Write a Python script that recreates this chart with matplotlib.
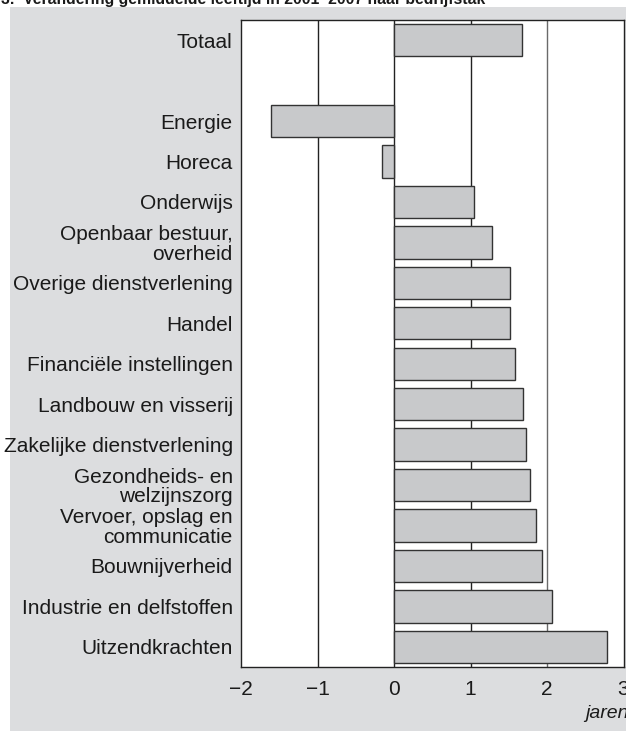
import matplotlib.pyplot as plt
from matplotlib.patches import Rectangle

plt.rcParams['font.family'] = ['Liberation Sans', 'DejaVu Sans']

categories = ['Totaal', '', 'Energie', 'Horeca', 'Onderwijs',
              'Openbaar bestuur,\noverheid', 'Overige dienstverlening', 'Handel',
              'Financiële instellingen', 'Landbouw en visserij',
              'Zakelijke dienstverlening', 'Gezondheids- en\nwelzijnszorg',
              'Vervoer, opslag en\ncommunicatie', 'Bouwnijverheid',
              'Industrie en delfstoffen', 'Uitzendkrachten']
values = [1.67, None, -1.61, -0.16, 1.04, 1.28, 1.515, 1.52, 1.58, 1.68,
          1.73, 1.78, 1.85, 1.93, 2.06, 2.78]
xticks = [-2, -1, 0, 1, 2, 3]
xticklabels = ['\u22122', '\u22121', '0', '1', '2', '3']

W, H = 626, 731
fig = plt.figure(figsize=(W / 100, H / 100), dpi=100)
fig.patch.set_facecolor('white')

# grey panel behind the chart
fig.patches.append(Rectangle((10 / W, 0), 1, 1 - 7 / H, transform=fig.transFigure,
                             facecolor='#dcdddf', edgecolor='none', zorder=-10))

fig.text(1 / W, 1 - 4 / H, '3.  Verandering gemiddelde leeftijd in 2001\u20132007 naar bedrijfstak',
         fontsize=11.3, fontweight='bold', color='#1a1a1a', ha='left', va='baseline')

ax = fig.add_axes([241 / W, 1 - 667 / H, (623.5 - 241) / W, (667 - 20) / H])
ax.set_facecolor('white')

pos = list(range(len(categories)))
for p, v in zip(pos, values):
    if v is None:
        continue
    ax.barh(p, v, height=0.8, color='#c8c9cb', edgecolor='#333333', linewidth=1.0, zorder=3)

for g in [-1, 0, 1, 2]:
    ax.axvline(g, color='#222222' if g != 2 else '#6a6a6a', linewidth=1.0, zorder=2)

ax.set_xlim(-2, 3)
ax.set_ylim(len(categories) - 0.5, -0.5)
ax.set_yticks(pos)
ax.set_yticklabels(categories, fontsize=15, color='#1a1a1a', linespacing=1.02)
ax.set_xticks(xticks)
ax.set_xticklabels(xticklabels, fontsize=15, color='#1a1a1a')
ax.tick_params(axis='both', length=0)
ax.tick_params(axis='y', pad=6)
ax.tick_params(axis='x', pad=9.5)
for s in ax.spines.values():
    s.set_color('#222222')
    s.set_linewidth(1.0)

fig.text(629 / W, 1 - 713 / H, 'jaren', fontsize=14, style='italic', color='#1a1a1a',
         ha='right', va='center')

fig.savefig('out.png', dpi=100)
